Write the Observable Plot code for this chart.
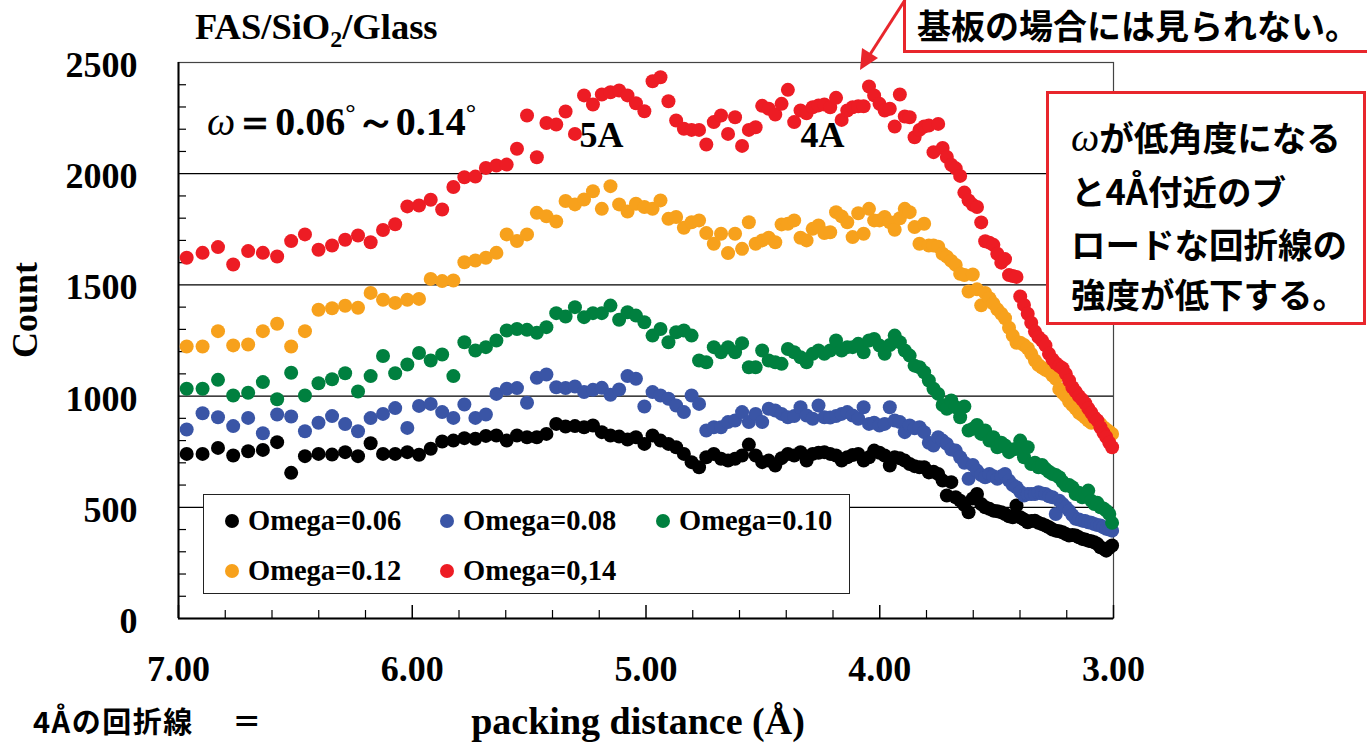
<!DOCTYPE html>
<html><head><meta charset="utf-8">
<script src="https://cdn.jsdelivr.net/npm/d3@7"></script>
<script src="https://cdn.jsdelivr.net/npm/@observablehq/plot@0.6"></script>
<style>
body{margin:0;background:#fff;}
#wrap{position:relative;width:1367px;height:744px;overflow:hidden;background:#fff;}
.abs{position:absolute;white-space:nowrap;}
.serif{font-family:"Liberation Serif","Times New Roman",serif;font-weight:bold;color:#000;}
.jp{font-family:"Noto Sans CJK JP",sans-serif;font-weight:700;color:#000;}
</style></head>
<body><div id="wrap"></div>
<script>
// packing distance (Å) of each measured point (shared by all series)
const distance = [
6.965,6.897,6.831,6.766,6.702,6.639,6.578,6.518,6.459,6.401,
6.343,6.287,6.232,6.178,6.125,6.073,6.021,5.971,5.921,5.872,
5.824,5.777,5.730,5.685,5.640,5.596,5.552,5.509,5.467,5.426,
5.384,5.344,5.304,5.265,5.227,5.189,5.152,5.115,5.079,5.043,
5.007,4.972,4.938,4.904,4.871,4.838,4.805,4.773,4.742,4.710,
4.679,4.649,4.619,4.589,4.560,4.531,4.503,4.475,4.447,4.420,
4.393,4.366,4.339,4.313,4.287,4.262,4.237,4.212,4.187,4.163,
4.139,4.116,4.092,4.069,4.046,4.024,4.001,3.979,3.957,3.936,
3.914,3.893,3.872,3.851,3.830,3.810,3.790,3.770,3.750,3.731,
3.713,3.694,3.675,3.656,3.638,3.620,3.602,3.584,3.566,3.549,
3.531,3.514,3.497,3.480,3.464,3.447,3.431,3.415,3.399,3.383,
3.367,3.352,3.336,3.321,3.306,3.291,3.276,3.261,3.247,3.232,
3.218,3.204,3.190,3.176,3.162,3.148,3.134,3.121,3.108,3.095,
3.082,3.069,3.056,3.043,3.031,3.018,3.006];

const omega006 = [
740,740,767,733,752,758,793,655,730,740,
737,748,730,788,740,740,748,736,763,796,
800,811,808,821,823,800,823,815,815,830,
875,863,865,860,868,838,823,818,805,815,
785,823,800,785,770,740,703,680,725,740,
718,710,718,733,782,733,703,710,688,721,
740,733,748,710,740,745,748,740,733,710,
725,735,740,710,725,755,745,733,688,725,
720,710,695,685,680,680,657,660,650,620,
553,613,545,530,510,478,540,560,515,500,
493,485,482,478,470,460,455,508,455,445,
433,438,440,430,425,418,410,400,395,392,
388,380,373,375,373,365,358,355,350,347,
343,335,320,315,305,318,328];

const omega008 = [
850,923,905,865,902,833,917,908,842,880,
910,874,842,901,920,946,857,956,965,928,
902,962,902,917,1010,1033,1036,970,1082,1097,
1040,1036,1043,1018,1028,1037,1006,1030,1090,1078,
953,1018,1003,988,958,928,1003,965,845,860,
860,883,890,928,883,920,883,943,935,920,
905,910,950,913,898,958,905,904,910,920,
928,913,898,950,875,880,868,875,950,890,
883,838,868,855,860,838,790,778,815,800,
785,760,755,725,700,628,690,665,645,635,
650,640,628,640,650,620,600,590,570,553,
560,560,560,568,562,560,550,545,470,530,
515,500,485,465,448,445,440,438,433,430,
425,420,418,410,403,400,395];

const omega010 = [
1033,1033,1073,1003,1015,1063,986,1105,1003,1058,
1076,1103,1021,1090,1180,1103,1142,1194,1160,1187,
1090,1242,1205,1220,1250,1295,1302,1298,1285,1310,
1373,1358,1400,1355,1373,1373,1407,1343,1377,1362,
1332,1272,1302,1242,1287,1295,1272,1160,1152,1220,
1197,1220,1197,1238,1130,1130,1205,1160,1152,1145,
1212,1197,1175,1152,1190,1205,1190,1205,1250,1205,
1220,1220,1235,1197,1250,1257,1227,1190,1230,1272,
1242,1205,1182,1137,1130,1107,1070,1033,1010,960,
943,980,950,905,953,845,853,870,830,845,
800,815,770,790,778,748,760,763,800,725,
770,695,700,680,690,673,660,650,645,635,
615,598,600,590,560,565,545,560,575,530,
515,520,500,495,485,470,430];

const omega012 = [
1223,1223,1292,1228,1232,1292,1325,1223,1292,1388,
1395,1406,1397,1464,1433,1419,1433,1437,1527,1517,
1520,1602,1610,1622,1644,1727,1697,1727,1824,1809,
1785,1877,1862,1884,1921,1842,1944,1862,1830,1865,
1850,1842,1880,1797,1805,1757,1782,1790,1733,1685,
1730,1643,1730,1662,1782,1685,1700,1712,1692,1772,
1775,1790,1712,1700,1752,1767,1733,1737,1827,1808,
1782,1715,1822,1730,1842,1790,1790,1805,1782,1748,
1800,1842,1827,1760,1685,1775,1677,1677,1672,1640,
1627,1608,1590,1550,1544,1470,1547,1480,1408,1464,
1440,1416,1390,1370,1350,1307,1272,1240,1240,1230,
1215,1190,1160,1140,1128,1118,1110,1092,1078,1032,
1015,1000,976,960,944,925,915,904,890,880,
888,880,875,860,850,840,830];

const omega014 = [
1622,1644,1670,1592,1652,1644,1628,1697,1727,1658,
1677,1703,1722,1692,1747,1773,1853,1857,1883,1839,
1940,1984,1987,2026,2037,2041,2112,2262,2074,2228,
2221,2280,2179,2352,2311,2356,2366,2374,2352,2317,
2281,2416,2434,2326,2239,2202,2197,2197,2131,2232,
2262,2179,2254,2125,2197,2209,2305,2292,2266,2314,
2377,2232,2284,2272,2299,2307,2311,2299,2341,2242,
2284,2299,2303,2303,2392,2352,2314,2284,2292,2212,
2356,2257,2254,2164,2197,2212,2217,2097,2224,2116,
2075,2040,2024,1990,1915,1880,1860,1850,1781,1696,
1690,1680,1640,1600,1616,1544,1540,1536,1448,1410,
1370,1330,1290,1265,1250,1228,1190,1165,1148,1135,
1125,1100,1070,1040,1020,1000,984,968,945,925,
904,890,860,835,816,790,770];

const seriesNames = ["Omega=0.06","Omega=0.08","Omega=0.10","Omega=0.12","Omega=0,14"];
const seriesValues = [omega006, omega008, omega010, omega012, omega014];
const seriesColors = ["#000000","#3a55a6","#00803f","#f7a11c","#ed1c24"];

const xTickLabels = [7, 6, 5, 4, 3];
const xMinorTicks = [6.8,6.6,6.4,6.2,5.8,5.6,5.4,5.2,4.8,4.6,4.4,4.2,3.8,3.6,3.4,3.2];
const yTickLabels = [0, 500, 1000, 1500, 2000, 2500];
const yGrid = [500, 1000, 1500, 2000];
const yMinorTicks = [100,200,300,400,600,700,800,900,1100,1200,1300,1400,1600,1700,1800,1900,2100,2200,2300,2400];
const peakLabels = [{label: "5A", d: 5.19, c: 2172}, {label: "4A", d: 4.245, c: 2172}];

const serif = "Liberation Serif, Times New Roman, serif";

const dotMarks = seriesValues.map((vals, i) =>
  Plot.dot(distance.map((d, k) => ({d, c: vals[k]})), {x: "d", y: "c", r: 7, fill: seriesColors[i], stroke: "none"})
);

const chart = Plot.plot({
  width: 1367, height: 744,
  marginLeft: 178, marginRight: 254, marginTop: 62, marginBottom: 126,
  x: {domain: [7, 3], axis: null},
  y: {domain: [0, 2500], axis: null},
  style: {background: "transparent", overflow: "visible"},
  marks: [
    Plot.ruleY(yGrid, {stroke: "#000", strokeWidth: 1.2}),
    Plot.frame({stroke: "#444", strokeWidth: 1.2}),
    Plot.ruleX([7], {stroke: "#000", strokeWidth: 2}),
    Plot.ruleY([0], {stroke: "#000", strokeWidth: 2}),
    Plot.tickX(xMinorTicks, {x: d => d, insetTop: 548, stroke: "#000", strokeWidth: 1.2}),
    Plot.tickX(xTickLabels, {x: d => d, insetTop: 543, stroke: "#000", strokeWidth: 1.5}),
    Plot.tickY(yMinorTicks, {y: d => d, insetRight: 927, stroke: "#000", strokeWidth: 1.2}),
    Plot.text(xTickLabels, {x: d => d, frameAnchor: "bottom", dy: 62, text: d => d.toFixed(2),
      fontSize: 36, fontWeight: "bold", fontFamily: serif, fill: "#000"}),
    Plot.text(yTickLabels, {y: d => d, frameAnchor: "left", dx: -41, dy: 3, textAnchor: "end", text: d => String(d),
      fontSize: 36, fontWeight: "bold", fontFamily: serif, fill: "#000"}),
    ...dotMarks,
    Plot.text(peakLabels, {x: "d", y: "c", text: "label", fontSize: 36, fontWeight: "bold", fontFamily: serif, fill: "#000"})
  ]
});
chart.style.position = "absolute";
chart.style.left = "0px";
chart.style.top = "0px";
const wrap = document.getElementById("wrap");
wrap.appendChild(chart);

function addDiv(html, cls, css) {
  const el = document.createElement("div");
  el.className = "abs " + cls;
  el.innerHTML = html;
  Object.assign(el.style, css);
  wrap.appendChild(el);
  return el;
}

// Title & axis titles
addDiv('FAS/SiO<span style="font-size:24px;position:relative;top:8px;">2</span>/Glass', "serif",
  {left: "195px", top: "9px", fontSize: "36.5px", lineHeight: "36px"});
addDiv('Count', "serif", {left: "25px", top: "310px", fontSize: "36px", lineHeight: "36px",
  transform: "translate(-50%,-50%) rotate(-90deg)"});
addDiv('packing distance (Å)', "serif", {left: "638px", top: "702px", fontSize: "38px", lineHeight: "38px",
  transform: "translateX(-50%)"});
addDiv('<span style="font-style:italic;font-weight:normal;font-family:Liberation Serif,serif;">ω</span>＝0.06<span style="font-size:26px;position:relative;top:-14px;">°</span>～0.14<span style="font-size:26px;position:relative;top:-14px;">°</span>',
  "serif", {left: "207px", top: "102px", fontSize: "40px", lineHeight: "40px"});

// Legend
addDiv("", "", {left: "203px", top: "494px", width: "645px", height: "98px",
  border: "1.5px solid #222", background: "#fff"});
const legendPos = [[0,0],[1,0],[2,0],[0,1],[1,1]];
const colX = [232, 447, 663];
const rowY = [521, 571];
seriesNames.forEach((name, i) => {
  const [c, r] = legendPos[i];
  addDiv("", "", {left: (colX[c] - 7) + "px", top: (rowY[r] - 7) + "px", width: "14px", height: "14px",
    borderRadius: "50%", background: seriesColors[i]});
  addDiv(name, "serif", {left: (colX[c] + 16) + "px", top: (rowY[r] - 14) + "px", fontSize: "28.5px", lineHeight: "28px"});
});

// Annotations
addDiv("", "", {left: "903px", top: "-20px", width: "520px", height: "67px", border: "3px solid #e8262c", background: "#fff"});
addDiv("基板の場合には見られない。", "jp", {left: "917px", top: "8px", fontSize: "34px", lineHeight: "34px"});

addDiv("", "", {left: "1046px", top: "91px", width: "314px", height: "228px", border: "3px solid #e8262c", background: "#fff"});
const boxLines = ["<i style='font-family:Liberation Serif,serif;font-weight:normal;font-size:40px;'>ω</i>が低角度になる", "と4Å付近のブ", "ロードな回折線の", "強度が低下する。"];
const boxLineY = [136, 190, 243, 293];
boxLines.forEach((t, i) => addDiv(t, "jp", {left: "1071px", top: (boxLineY[i] - 17) + "px", fontSize: "34.5px", lineHeight: "34px"}));

addDiv("4Åの回折線　 ＝", "jp", {left: "33px", top: "706px", fontSize: "29px", lineHeight: "29px", letterSpacing: "1.5px"});

// Arrow
const ns = "http://www.w3.org/2000/svg";
const arrow = document.createElementNS(ns, "svg");
arrow.setAttribute("width", 1367); arrow.setAttribute("height", 744);
arrow.style.position = "absolute"; arrow.style.left = "0"; arrow.style.top = "0"; arrow.style.pointerEvents = "none";
arrow.innerHTML = '<line x1="905" y1="0" x2="869" y2="56" stroke="#e8262c" stroke-width="3"/>' +
  '<polygon points="860,70 862,48 878,58" fill="#e8262c"/>';
wrap.appendChild(arrow);
</script>
</body></html>
